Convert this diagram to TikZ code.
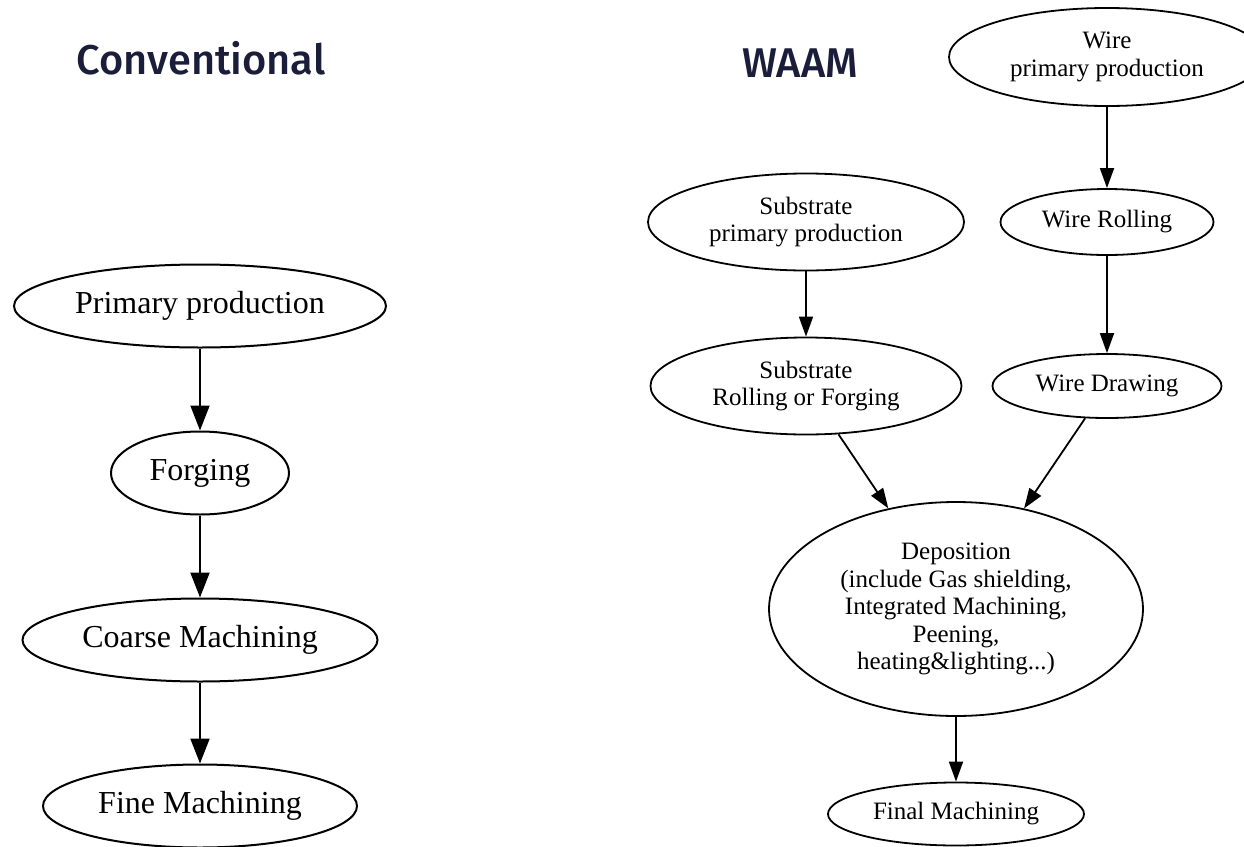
\documentclass[tikz,border=0pt]{standalone}
\usepackage{fontspec}
\setmainfont{Liberation Serif}
\newfontfamily\titlefont{Fira Sans}[UprightFont=* Medium]
\usetikzlibrary{shapes.geometric, arrows.meta}
\definecolor{titleblue}{HTML}{1B1E3A}

\begin{document}
\begin{tikzpicture}[x=.5pt, y=-.5pt,
  bigstage/.style={draw, ellipse, line width=1pt, inner sep=0pt,
    minimum height=41.5pt, font=\fontsize{16}{18}\selectfont},
  smallstage/.style={draw, ellipse, line width=.9pt, inner sep=0pt,
    align=center, font=\fontsize{12.5}{13.75}\selectfont},
  bigflow/.style={line width=1pt, -{Triangle[length=12.5pt, width=9.5pt]}},
  smallflow/.style={line width=.9pt, -{Triangle[length=10pt, width=7pt]}},
  heading/.style={text=titleblue, inner sep=0pt, font=\titlefont\fontsize{20.8}{25}\selectfont}]
% Page is the size of the reference picture
\useasboundingbox (0,0) rectangle (1244,847);
\clip (0,0) rectangle (1244,847);
% Titles of the two routes
\node [heading, anchor=base] (convtitle) at (201,74) {Conventional};
\node [heading, anchor=base] (waamtitle) at (800,77) {WAAM};
% Conventional route, one column
\node [bigstage, minimum width=186pt] (prim) at (200,306) {Primary production};
\node [bigstage, minimum width=89pt] (forge) at (200,473) {Forging};
\node [bigstage, minimum width=177.5pt] (coarse) at (200,640) {Coarse Machining};
\node [bigstage, minimum width=157pt] (fine) at (200,806) {Fine Machining};
\draw [bigflow] (prim) -- (forge);
\draw [bigflow] (forge) -- (coarse);
\draw [bigflow] (coarse) -- (fine);
% WAAM route, wire column on the right
\node [smallstage, minimum width=158pt, minimum height=49pt] (wireprim)
  at (1107,57) {Wire\\primary production};
\node [smallstage, minimum width=106.5pt, minimum height=33pt] (wireroll)
  at (1107,222) {Wire Rolling};
\node [smallstage, minimum width=114.5pt, minimum height=32pt] (wiredraw)
  at (1107,386) {Wire Drawing};
% Substrate column on the left
\node [smallstage, minimum width=158pt, minimum height=48.5pt] (subprim)
  at (806,222) {Substrate\\primary production};
\node [smallstage, minimum width=155.5pt, minimum height=48.5pt] (subroll)
  at (806,386) {Substrate\\Rolling or Forging};
% Both columns meet at the deposition step
\node [smallstage, minimum width=187pt, minimum height=107pt] (depo)
  at (956,609) {Deposition\\(include Gas shielding,\\Integrated Machining,\\Peening,\\heating\&lighting...)};
\node [smallstage, minimum width=128pt, minimum height=31.5pt] (final)
  at (956,814) {Final Machining};
\draw [smallflow] (wireprim) -- (wireroll);
\draw [smallflow] (wireroll) -- (wiredraw);
\draw [smallflow] (subprim) -- (subroll);
\draw [smallflow] (subroll) -- (depo);
\draw [smallflow] (wiredraw) -- (depo);
\draw [smallflow] (depo) -- (final);
\end{tikzpicture}
\end{document}
